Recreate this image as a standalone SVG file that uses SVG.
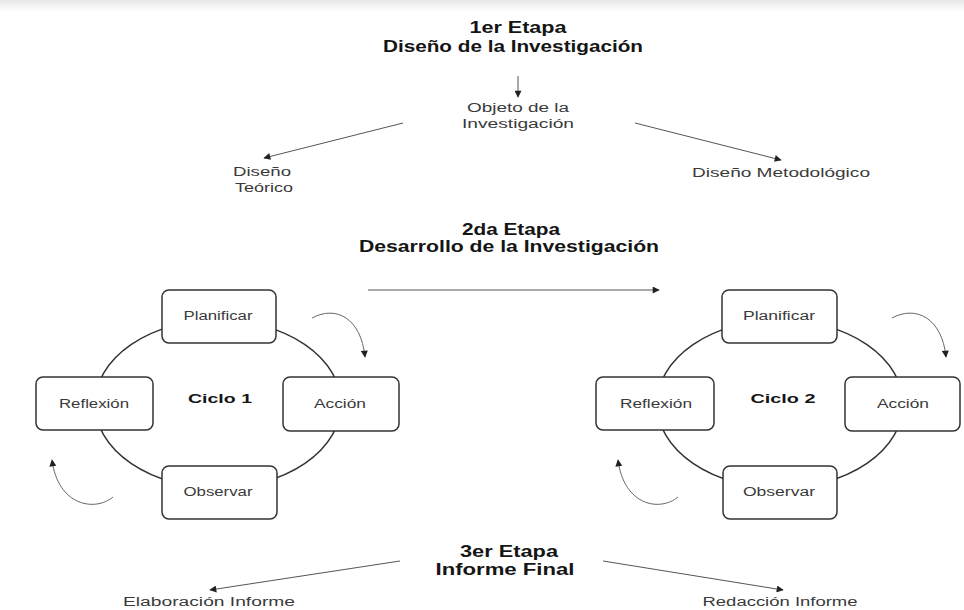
<svg xmlns="http://www.w3.org/2000/svg" width="964" height="610" viewBox="0 0 964 610">
  <defs>
    <linearGradient id="topband" x1="0" y1="0" x2="0" y2="1">
      <stop offset="0" stop-color="#e6e6e6"/>
      <stop offset="1" stop-color="#ffffff"/>
    </linearGradient>
    <marker id="arrow" viewBox="0 0 10 10" refX="9" refY="5" markerWidth="8" markerHeight="7" markerUnits="userSpaceOnUse" orient="auto">
      <path d="M0,0 L10,5 L0,10 z" fill="#222"/>
    </marker>
    <style>
      .head { font-family: "Liberation Sans", Arial, sans-serif; font-weight: bold; font-size: 16px; fill: #151515; text-anchor: middle; }
      .cyc { font-family: "Liberation Sans", Arial, sans-serif; font-weight: bold; font-size: 12.5px; fill: #151515; text-anchor: middle; }
      .lbl { font-family: "Liberation Sans", Arial, sans-serif; font-size: 12px; fill: #3a3a3a; text-anchor: middle; }
      .box { fill: #ffffff; stroke: #333; stroke-width: 1.5; }
      .ring { fill: none; stroke: #333; stroke-width: 1.5; }
      .conn { fill: none; stroke: #555; stroke-width: 1; marker-end: url(#arrow); }
      .curv { fill: none; stroke: #666; stroke-width: 1; marker-end: url(#arrow); }
    </style>
  </defs>

  <rect x="0" y="0" width="964" height="610" fill="#ffffff"/>
  <rect x="0" y="0" width="964" height="11" fill="url(#topband)"/>

  <g id="connectors">
    <line class="conn" x1="518" y1="76" x2="518" y2="97"/>
    <line class="conn" x1="403" y1="123" x2="264" y2="158"/>
    <line class="conn" x1="635" y1="123" x2="781" y2="160"/>
    <line class="conn" x1="368" y1="290" x2="659" y2="290"/>
    <line class="conn" x1="400" y1="561" x2="210" y2="590"/>
    <line class="conn" x1="603" y1="561" x2="783" y2="590"/>
    <path class="curv" d="M312,318 C336,305 361,318 365,357"/>
    <path class="curv" d="M113,497 C95,512 58,506 52,460"/>
    <path class="curv" d="M892,318 C916,305 942,318 946,357"/>
    <path class="curv" d="M678,497 C660,512 624,506 618,460"/>
  </g>

  <g id="stage1">
    <text class="head" x="518" y="33" textLength="97" lengthAdjust="spacingAndGlyphs">1er Etapa</text>
    <text class="head" x="513" y="52" textLength="260" lengthAdjust="spacingAndGlyphs">Diseño de la Investigación</text>
  </g>
  <g id="objeto">
    <text class="lbl" x="518" y="112" textLength="102" lengthAdjust="spacingAndGlyphs">Objeto de la</text>
    <text class="lbl" x="518" y="128" textLength="112" lengthAdjust="spacingAndGlyphs">Investigación</text>
  </g>
  <g id="disenoTeorico">
    <text class="lbl" x="262" y="176" textLength="58" lengthAdjust="spacingAndGlyphs">Diseño</text>
    <text class="lbl" x="264" y="192" textLength="58" lengthAdjust="spacingAndGlyphs">Teórico</text>
  </g>
  <g id="disenoMetodologico">
    <text class="lbl" x="781" y="177" textLength="178" lengthAdjust="spacingAndGlyphs">Diseño Metodológico</text>
  </g>

  <g id="stage2">
    <text class="head" x="511" y="235" textLength="98" lengthAdjust="spacingAndGlyphs">2da Etapa</text>
    <text class="head" x="509" y="252" textLength="300" lengthAdjust="spacingAndGlyphs">Desarrollo de la Investigación</text>
  </g>

  <g id="ciclo1">
    <ellipse class="ring" cx="218" cy="404" rx="123" ry="84"/>
    <text class="cyc" x="220" y="403" textLength="64" lengthAdjust="spacingAndGlyphs">Ciclo 1</text>
  </g>
  <g id="c1-planificar">
    <rect class="box" x="162" y="290" width="114" height="53" rx="7"/>
    <text class="lbl" x="218" y="320" textLength="69" lengthAdjust="spacingAndGlyphs">Planificar</text>
  </g>
  <g id="c1-accion">
    <rect class="box" x="283" y="377" width="116" height="54" rx="7"/>
    <text class="lbl" x="340" y="408" textLength="52" lengthAdjust="spacingAndGlyphs">Acción</text>
  </g>
  <g id="c1-observar">
    <rect class="box" x="162" y="466" width="115" height="53" rx="7"/>
    <text class="lbl" x="218" y="496" textLength="69" lengthAdjust="spacingAndGlyphs">Observar</text>
  </g>
  <g id="c1-reflexion">
    <rect class="box" x="36" y="377" width="117" height="53" rx="7"/>
    <text class="lbl" x="94" y="408" textLength="70" lengthAdjust="spacingAndGlyphs">Reflexión</text>
  </g>

  <g id="ciclo2">
    <ellipse class="ring" cx="780" cy="404" rx="123" ry="84"/>
    <text class="cyc" x="783" y="403" textLength="65" lengthAdjust="spacingAndGlyphs">Ciclo 2</text>
  </g>
  <g id="c2-planificar">
    <rect class="box" x="722" y="290" width="115" height="53" rx="7"/>
    <text class="lbl" x="779" y="320" textLength="72" lengthAdjust="spacingAndGlyphs">Planificar</text>
  </g>
  <g id="c2-accion">
    <rect class="box" x="845" y="377" width="115" height="54" rx="7"/>
    <text class="lbl" x="903" y="408" textLength="52" lengthAdjust="spacingAndGlyphs">Acción</text>
  </g>
  <g id="c2-observar">
    <rect class="box" x="723" y="466" width="114" height="53" rx="7"/>
    <text class="lbl" x="779" y="496" textLength="72" lengthAdjust="spacingAndGlyphs">Observar</text>
  </g>
  <g id="c2-reflexion">
    <rect class="box" x="596" y="377" width="118" height="53" rx="7"/>
    <text class="lbl" x="656" y="408" textLength="72" lengthAdjust="spacingAndGlyphs">Reflexión</text>
  </g>

  <g id="stage3">
    <text class="head" x="509" y="557" textLength="98" lengthAdjust="spacingAndGlyphs">3er Etapa</text>
    <text class="head" x="505" y="575" textLength="139" lengthAdjust="spacingAndGlyphs">Informe Final</text>
  </g>
  <g id="elaboracion">
    <text class="lbl" x="209" y="606" textLength="172" lengthAdjust="spacingAndGlyphs">Elaboración Informe</text>
  </g>
  <g id="redaccion">
    <text class="lbl" x="780" y="606" textLength="155" lengthAdjust="spacingAndGlyphs">Redacción Informe</text>
  </g>
</svg>
